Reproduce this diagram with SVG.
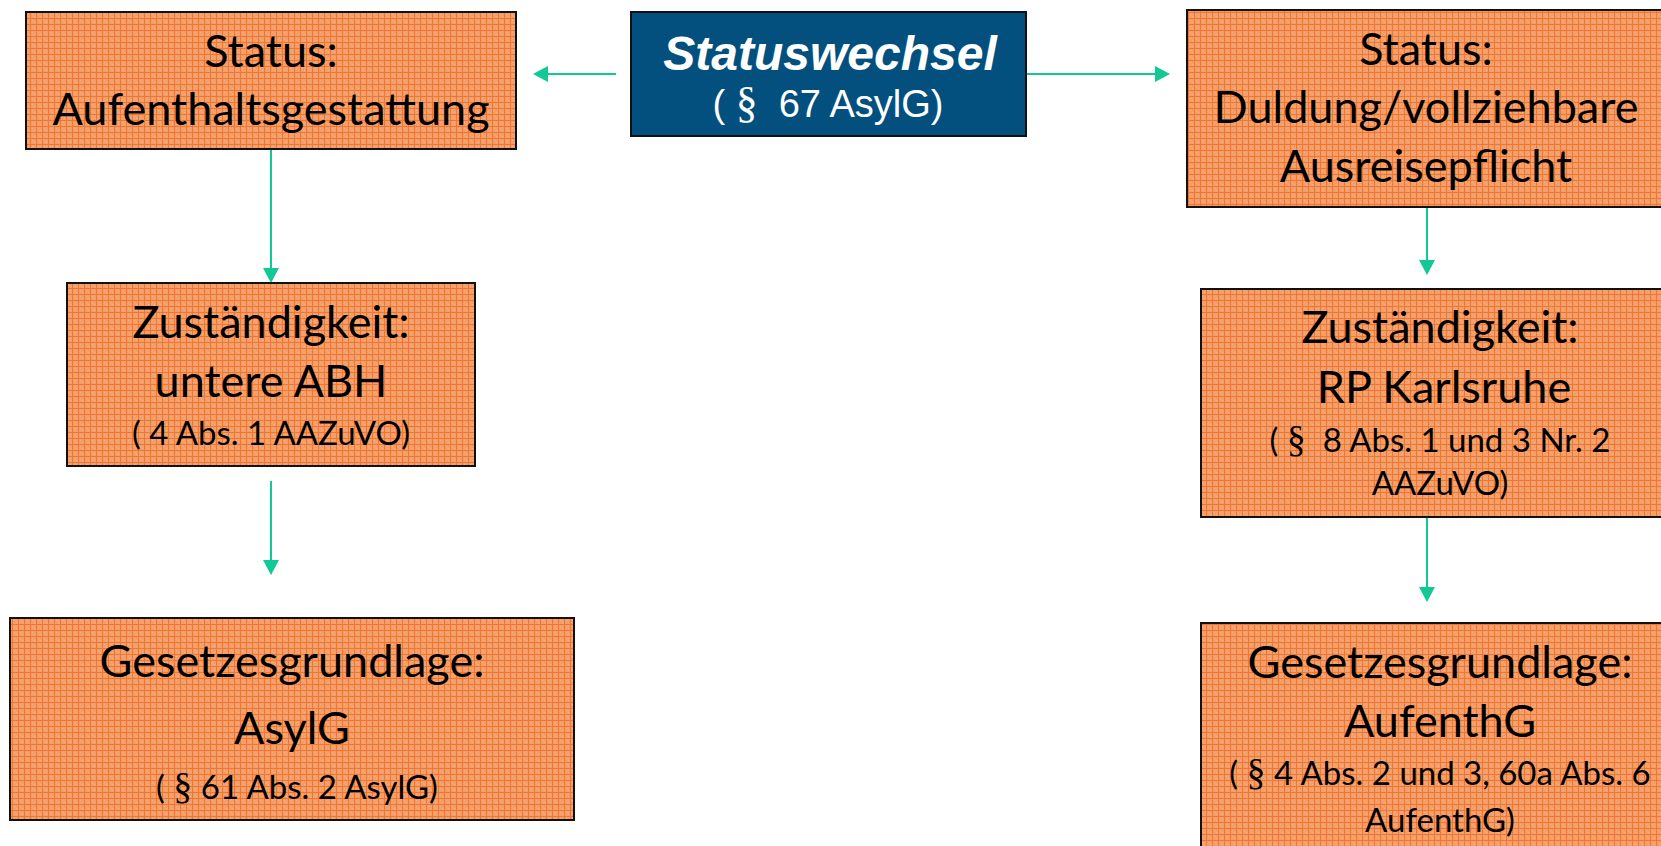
<svg xmlns="http://www.w3.org/2000/svg" width="1661" height="846" viewBox="0 0 1661 846">
  <defs>
    <pattern id="grid" width="6" height="6" patternUnits="userSpaceOnUse">
      <rect width="6" height="6" fill="#F59E69"/>
      <rect x="2" y="2" width="1" height="1" fill="#F4B086"/>
      <rect x="4" y="4" width="1" height="1" fill="#F4B086"/>
      <path d="M0 0.5 H6 M0.5 0 V6" stroke="#EE7832" stroke-width="1"/>
    </pattern>
    <marker id="arr" markerUnits="userSpaceOnUse" markerWidth="16" markerHeight="16" refX="0" refY="8" orient="auto">
      <path d="M0 0 L15 8 L0 16 Z" fill="#10C994"/>
    </marker>
    <style>
      .box { fill: url(#grid); stroke: #111; stroke-width: 2; }
      .blue { fill: #03507E; stroke: #111; stroke-width: 2; }
      .big { font-family: Lato, "Liberation Sans", sans-serif; font-size: 45px; fill: #000; text-anchor: middle; }
      .small { font-family: Lato, "Liberation Sans", sans-serif; font-size: 33px; fill: #000; text-anchor: middle; }
      .para { font-family: "Liberation Serif", serif; font-size: 1.15em; }
      .title { font-family: "Liberation Sans", Arial, sans-serif; font-size: 48px; font-weight: bold; font-style: italic; fill: #fff; text-anchor: middle; }
      .sub { font-family: "Liberation Sans", Arial, sans-serif; font-size: 38px; fill: #fff; text-anchor: middle; }
      .conn { stroke: #10C994; stroke-width: 2; fill: none; marker-end: url(#arr); }
    </style>
  </defs>
  <rect width="1661" height="846" fill="#fff"/>

  <g id="connectors">
    <line class="conn" x1="616" y1="74" x2="548" y2="74"/>
    <line class="conn" x1="1026" y1="74" x2="1155" y2="74"/>
    <line class="conn" x1="271" y1="149" x2="271" y2="268"/>
    <line class="conn" x1="271" y1="481" x2="271" y2="560"/>
    <line class="conn" x1="1427" y1="202" x2="1427" y2="260"/>
    <line class="conn" x1="1427" y1="507" x2="1427" y2="587"/>
  </g>

  <g id="node-status-gestattung">
    <rect class="box" x="26" y="12" width="490" height="137"/>
    <text class="big" x="271" y="67">Status:</text>
    <text class="big" x="271" y="125">Aufenthaltsgestattung</text>
  </g>

  <g id="node-statuswechsel">
    <rect class="blue" x="631" y="12" width="395" height="124"/>
    <text class="title" x="830" y="70">Statuswechsel</text>
    <text class="sub" x="828" y="117" xml:space="preserve">( <tspan class="para">§</tspan>  67 AsylG)</text>
  </g>

  <g id="node-status-duldung">
    <rect class="box" x="1187" y="10" width="480" height="197"/>
    <text class="big" x="1426" y="65">Status:</text>
    <text class="big" x="1426" y="123">Duldung/vollziehbare</text>
    <text class="big" x="1426" y="182">Ausreisepflicht</text>
  </g>

  <g id="node-zust-abh">
    <rect class="box" x="67" y="283" width="408" height="183"/>
    <text class="big" x="271" y="338">Zuständigkeit:</text>
    <text class="big" x="271" y="397">untere ABH</text>
    <text class="small" x="271" y="445">( 4 Abs. 1 AAZuVO)</text>
  </g>

  <g id="node-zust-rp">
    <rect class="box" x="1201" y="289" width="480" height="228"/>
    <text class="big" x="1440" y="343">Zuständigkeit:</text>
    <text class="big" x="1444" y="403">RP Karlsruhe</text>
    <text class="small" x="1440" y="452" xml:space="preserve">( <tspan class="para">§</tspan>  8 Abs. 1 und 3 Nr. 2</text>
    <text class="small" x="1440" y="495">AAZuVO)</text>
  </g>

  <g id="node-gesetz-asylg">
    <rect class="box" x="10" y="618" width="564" height="202"/>
    <text class="big" x="292" y="677">Gesetzesgrundlage:</text>
    <text class="big" x="292" y="744">AsylG</text>
    <text class="small" x="297" y="799">( <tspan class="para">§</tspan> 61 Abs. 2 AsylG)</text>
  </g>

  <g id="node-gesetz-aufenthg">
    <rect class="box" x="1201" y="623" width="480" height="260"/>
    <text class="big" x="1440" y="678">Gesetzesgrundlage:</text>
    <text class="big" x="1440" y="737">AufenthG</text>
    <text class="small" x="1440" y="785">( <tspan class="para">§</tspan> 4 Abs. 2 und 3, 60a Abs. 6</text>
    <text class="small" x="1440" y="832">AufenthG)</text>
  </g>
</svg>
